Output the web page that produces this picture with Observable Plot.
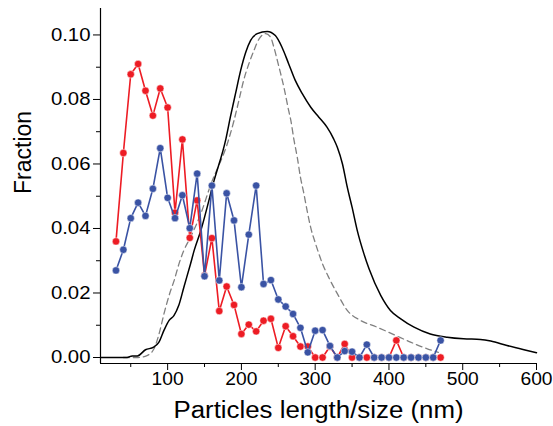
<!DOCTYPE html>
<html>
<head>
<meta charset="utf-8">
<script src="https://cdn.jsdelivr.net/npm/d3@7"></script>
<script src="https://cdn.jsdelivr.net/npm/@observablehq/plot@0.6"></script>
<style>
  html, body { margin: 0; padding: 0; background: white; }
</style>
</head>
<body>
<div id="chart"></div>
<script>
// Particle sizes (nm) for the two point series
const sizes = [30,40,50,60,70,80,90,100,110,120,130,140,150,160,170,180,190,200,210,220,230,240,250,260,270,280,290,300,310,320,330,340,350,360,370,380,390,400,410,420,430,440,450,460,470];
// Red series fractions
const redFrac = [0.036,0.0634,0.0878,0.091,0.0827,0.075,0.0834,0.0775,0.0449,0.0676,0.0371,0.0487,0.0254,0.037,0.0144,0.022,0.0163,0.0073,0.0102,0.0081,0.0114,0.012,0.003,0.0097,0.0066,0.0034,0.0034,0,0,0.0034,0,0.0042,0,0,0,0,0,0,0.0053,0,0,0,0,0,0];
// Blue series fractions
const blueFrac = [0.027,0.0334,0.0432,0.048,0.0439,0.0523,0.0649,0.0495,0.0432,0.0503,0.0401,0.057,0.0252,0.0533,0.0239,0.0509,0.0425,0.0218,0.0381,0.0533,0.0228,0.024,0.018,0.0158,0.0135,0.0092,0.0016,0.0083,0.0085,0.0036,0,0.002,0.0018,0,0.004,0,0,0,0,0,0,0,0,0,0.0053];
// Solid black distribution curve
const blackX = [10,30,45,52,59,70,81,88,95,102,108.5,115,122,131,136,145,163,179,185,192,199,206,212.5,221.5,235,246,255,264,273,282.5,294,305,316,325,330,337,343.5,350,357,366,373,389,402,416,434,456,479,501,524,538,560,583,600];
const blackY = [0,0,0,0.0005,0.0005,0.0024,0.0032,0.0047,0.0084,0.0115,0.013,0.0161,0.0218,0.029,0.0332,0.0394,0.0549,0.0678,0.0745,0.0818,0.089,0.0947,0.0983,0.1004,0.1011,0.0998,0.0962,0.0911,0.0859,0.0818,0.0776,0.0745,0.0714,0.0678,0.0652,0.06,0.0528,0.0466,0.0394,0.0322,0.0275,0.0192,0.0146,0.012,0.0094,0.0073,0.0063,0.0058,0.0056,0.0051,0.0037,0.0024,0.0015];
// Dashed grey distribution curve
const dashX = [40,60,72,81.5,88,95,103,109,116,122,131,145,158,183,190,196.6,203,210,217,224,233,239.6,244,251,257.6,264,267,271,275.7,280,284.7,289,293.8,300.5,310,318,330,343.5,361.5,384,406.6,430,452,467];
const dashY = [0,0,0.0006,0.0027,0.007,0.0135,0.02,0.024,0.0295,0.0332,0.0373,0.0446,0.0533,0.0678,0.0735,0.0797,0.0859,0.091,0.0952,0.0988,0.1004,0.0993,0.0962,0.09,0.0838,0.0766,0.0735,0.0678,0.0621,0.0559,0.0508,0.0456,0.0404,0.0353,0.029,0.025,0.0198,0.0146,0.0115,0.0094,0.0071,0.0047,0.0027,0.0016];
// Ticks
const xMajor = [100,200,300,400,500,600];
const xMinor = [50,150,250,350,450,550];
const yMajor = [0,0.02,0.04,0.06,0.08,0.10];
const yMinor = [0.01,0.03,0.05,0.07,0.09];
const xTitle = "Particles length/size (nm)";
const yTitle = "Fraction";

const xMin = 9, xMax = 600, yMin = -0.00186, yMax = 0.1082;
const red = sizes.map((s, i) => ({x: s, y: redFrac[i]}));
const blue = sizes.map((s, i) => ({x: s, y: blueFrac[i]}));
const black = blackX.map((x, i) => ({x, y: blackY[i]}));
const dashed = dashX.map((x, i) => ({x, y: dashY[i]}));

const RED = "#ed1c24", BLUE = "#3a53a4";

const chart = Plot.plot({
  width: 553,
  height: 426,
  marginLeft: 100,
  marginRight: 17,
  marginTop: 8,
  marginBottom: 63,
  style: {fontFamily: "'Liberation Sans', Arial, sans-serif", fontSize: "18px", background: "white", color: "black"},
  x: {domain: [xMin, xMax]},
  y: {domain: [yMin, yMax]},
  marks: [
    Plot.line(dashed, {x: "x", y: "y", stroke: "#808080", strokeWidth: 1.3, strokeDasharray: "6,4", curve: "monotone-x"}),
    Plot.line(black, {x: "x", y: "y", stroke: "black", strokeWidth: 1.5, curve: "monotone-x"}),
    Plot.line(red, {x: "x", y: "y", stroke: RED, strokeWidth: 1.6}),
    Plot.dot(red, {x: "x", y: "y", r: 3.7, fill: RED, stroke: "white", strokeWidth: 0.5}),
    Plot.line(blue, {x: "x", y: "y", stroke: BLUE, strokeWidth: 1.6}),
    Plot.dot(blue, {x: "x", y: "y", r: 3.7, fill: BLUE, stroke: "white", strokeWidth: 0.5}),
    Plot.ruleX([xMin], {stroke: "black", strokeWidth: 1.2}),
    Plot.ruleY([yMin], {stroke: "black", strokeWidth: 1.2}),
    Plot.axisY(yMajor, {tickSize: 7, tickPadding: 3, tickFormat: d3.format(".2f"), fontSize: 18.5, label: null}),
    Plot.axisY(yMinor, {tickSize: 4, tickFormat: () => "", label: null}),
    Plot.axisX(xMajor, {tickSize: 7, tickPadding: 2, tickFormat: d3.format("d"), fontSize: 17.5, label: null}),
    Plot.axisX(xMinor, {tickSize: 4, tickFormat: () => "", label: null}),
    Plot.text([xTitle], {frameAnchor: "bottom", dy: 54, fontSize: 23.5}),
    Plot.text([yTitle], {frameAnchor: "left", dx: -77, dy: 8, rotate: -90, fontSize: 23})
  ]
});
document.getElementById("chart").appendChild(chart);
// Slight horizontal stretch of horizontal text to match the reference's glyph proportions
chart.querySelectorAll("text").forEach(t => {
  if (t.textContent === yTitle || t.textContent === "") return;
  const w = t.getComputedTextLength();
  if (w > 0) {
    t.setAttribute("textLength", (w * 1.1).toFixed(1));
    t.setAttribute("lengthAdjust", "spacingAndGlyphs");
  }
});
</script>
</body>
</html>
